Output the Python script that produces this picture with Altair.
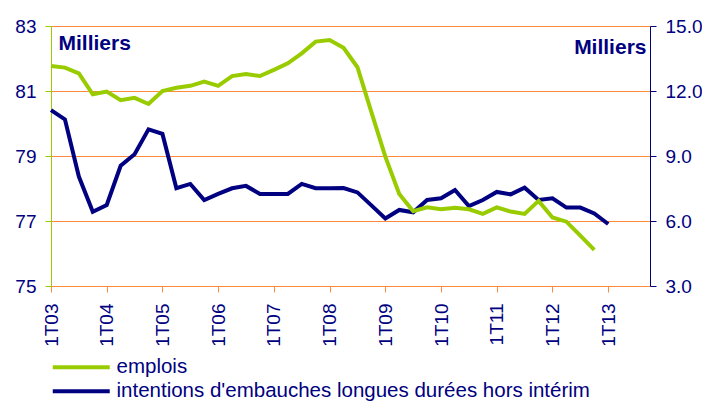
import altair as alt
import pandas as pd

quarters = [f"{q}T{y:02d}" for y in range(3, 14) for q in range(1, 5)]
year_labels = [f"1T{y:02d}" for y in range(3, 14)]

emplois = [81.77, 81.72, 81.54, 80.90, 80.98, 80.72, 80.79, 80.60, 81.00, 81.10,
           81.16, 81.29, 81.16, 81.46, 81.52, 81.46, 81.65, 81.85, 82.16, 82.52,
           82.57, 82.33, 81.73, 80.35, 78.98, 77.83, 77.30, 77.42, 77.36, 77.41,
           77.36, 77.22, 77.42, 77.29, 77.22, 77.62, 77.11, 76.98, 76.55, 76.11]

intentions = [11.12, 10.69, 8.05, 6.43, 6.74, 8.55, 9.08, 10.23, 10.02, 7.51,
              7.71, 6.97, 7.25, 7.51, 7.62, 7.25, 7.25, 7.25, 7.71, 7.51,
              7.51, 7.52, 7.32, 6.72, 6.12, 6.51, 6.40, 6.97, 7.05, 7.43,
              6.69, 6.97, 7.34, 7.23, 7.54, 6.97, 7.05, 6.62, 6.62, 6.35, 5.86]

s1 = "emplois"
s2 = "intentions d'embauches longues durées hors intérim"

GREEN = "#99cc00"
NAVY = "#000080"
ORANGE = "#ff8a3d"
FONT = "Liberation Sans"

df1 = pd.DataFrame({"q": quarters[:len(emplois)], "v": emplois, "s": s1})
df2 = pd.DataFrame({"q": quarters[:len(intentions)], "v": intentions, "s": s2})

xenc = alt.X("q:O", sort=quarters,
             scale=alt.Scale(type="point", domain=quarters, padding=0),
             axis=alt.Axis(values=year_labels, labelAngle=-90, labelFontSize=19,
                           labelColor=NAVY, labelFont=FONT, domainColor=ORANGE,
                           tickColor=ORANGE, tickSize=6, labelPadding=11,
                           grid=False, title=None))

color = alt.Color("s:N", scale=alt.Scale(domain=[s1, s2], range=[GREEN, NAVY]),
                  legend=alt.Legend(title=None, orient="none", legendX=20, legendY=331,
                                    symbolType="M-5.7,0H5.7", symbolStrokeWidth=4,
                                    symbolSize=100, labelFontSize=20.5, labelFont=FONT,
                                    labelColor=NAVY, labelOffset=25, rowPadding=3,
                                    labelLimit=0, direction="vertical"))

right = alt.Chart(df2).mark_line(strokeWidth=4).encode(
    x=xenc,
    y=alt.Y("v:Q", scale=alt.Scale(domain=[3, 15], nice=False, zero=False),
            axis=alt.Axis(orient="right", values=[3, 6, 9, 12, 15], format=".1f",
                          labelFontSize=19, labelFont=FONT, labelColor=NAVY,
                          domainColor=NAVY, tickColor=NAVY, tickSize=6,
                          labelPadding=9, grid=False,
                          title="Milliers", titleAngle=0, titleAlign="right",
                          titleBaseline="alphabetic", titleX=-4, titleY=27,
                          titleFontSize=21, titleFont=FONT, titleFontWeight="bold",
                          titleColor=NAVY)),
    color=color,
)

left = alt.Chart(df1).mark_line(strokeWidth=4).encode(
    x=xenc,
    y=alt.Y("v:Q", scale=alt.Scale(domain=[75, 83], nice=False, zero=False),
            axis=alt.Axis(orient="left", values=[75, 77, 79, 81, 83],
                          labelFontSize=19, labelFont=FONT, labelColor=NAVY,
                          domainColor=GREEN, tickColor=GREEN, tickSize=6,
                          labelPadding=9, grid=True, gridColor=ORANGE, gridWidth=1,
                          title="Milliers", titleAngle=0, titleAlign="left",
                          titleBaseline="alphabetic", titleX=7, titleY=23,
                          titleFontSize=21, titleFont=FONT, titleFontWeight="bold",
                          titleColor=NAVY)),
    color=color,
)

chart = alt.layer(right, left).resolve_scale(y="independent").properties(
    width=599, height=260,
    autosize=alt.AutoSizeParams(type="none"),
    padding={"left": 43, "top": 18, "right": 52, "bottom": 117},
).configure_view(stroke=None).configure(background="white")

chart.save("out.html", embed_options={"renderer": "svg", "actions": False})
